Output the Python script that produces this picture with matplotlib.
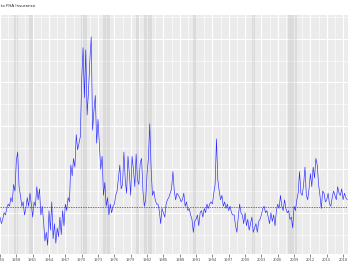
import numpy as np
import matplotlib
matplotlib.use('Agg')
import matplotlib.pyplot as plt

# quarterly values, 1955 Q1 .. 2018 Q4 (arbitrary units)
start_year = 1955.0
values = [
    -0.2, -0.5, -0.3, 0.0,   # 1955
    -0.1, 0.2, 0.4, 0.3,     # 1956
    0.7, 0.5, 1.3, 1.0,      # 1957
    2.4, 2.8, 1.2, 0.8,      # 1958
    0.3, 0.5, -0.1, 0.2,     # 1959
    0.7, 0.3, 0.9, 0.4,      # 1960
    -0.2, 0.5, 0.3, 1.2,     # 1961
    0.6, 1.1, -0.1, 0.3,     # 1962
    -0.4, -1.3, -0.9, -1.5,  # 1963
    0.1, -0.8, 0.5, -1.2,    # 1964
    -0.5, -1.4, -0.7, -1.1,  # 1965
    -0.2, -1.0, 0.1, -0.6,   # 1966
    0.4, 0.1, 0.7, 0.5,      # 1967
    2.2, 1.7, 2.5, 2.1,      # 1968
    3.6, 2.9, 3.2, 3.5,      # 1969
    6.1, 7.6, 5.3, 7.5,      # 1970
    4.5, 5.6, 7.0, 8.1,      # 1971
    3.8, 4.7, 5.4, 3.2,      # 1972
    4.3, 3.1, 2.0, 2.6,      # 1973
    0.8, 1.4, 0.3, 0.7,      # 1974
    -0.1, 0.4, 0.0, 0.3,     # 1975
    0.4, 0.8, 1.0, 1.6,      # 1976
    2.2, 1.1, 1.3, 2.8,      # 1977
    1.5, 0.9, 2.6, 1.8,      # 1978
    0.8, 2.6, 2.0, 1.2,      # 1979
    2.7, 1.5, 1.3, 2.3,      # 1980
    2.5, 1.0, 0.3, 0.6,      # 1981
    1.8, 2.5, 4.1, 2.0,      # 1982
    0.8, 1.0, 0.6, 0.4,      # 1983
    0.4, 0.1, -0.5, 0.2,     # 1984
    0.0, -0.2, 0.4, 0.6,     # 1985
    0.7, 0.9, 1.1, 1.9,      # 1986
    1.0, 0.6, 0.9, 0.8,      # 1987
    0.7, 0.5, 0.6, 0.9,      # 1988
    0.3, 0.5, 0.1, 0.2,      # 1989
    -0.1, -0.3, -0.9, -0.4,  # 1990
    -0.3, -0.1, -0.6, 0.0,   # 1991
    0.1, -0.2, 0.2, 0.0,     # 1992
    0.4, 0.2, 0.4, 0.5,      # 1993
    0.4, 0.9, 1.3, 3.4,      # 1994
    1.5, 1.0, 0.6, 0.8,      # 1995
    0.3, 0.5, 0.2, 0.4,      # 1996
    0.1, 0.3, 0.0, -0.1,     # 1997
    -0.1, -0.6, -0.9, -0.2,  # 1998
    0.4, 0.0, -0.1, -0.5,    # 1999
    0.0, -0.6, -0.3, -0.8,   # 2000
    -0.5, -0.2, -0.9, -0.7,  # 2001
    -0.5, -0.9, -0.4, -0.3,  # 2002
    -0.1, 0.2, 0.3, 0.0,     # 2003
    0.1, -0.2, -0.5, 0.0,    # 2004
    -0.4, -0.1, -0.6, 0.1,   # 2005
    0.4, 0.2, 0.8, 0.3,      # 2006
    0.1, 0.6, 0.2, 0.0,      # 2007
    0.1, -0.3, -0.2, -0.7,   # 2008
    0.3, 0.1, 0.6, 0.9,      # 2009
    1.9, 0.9, 0.8, 1.3,      # 2010
    2.1, 0.8, 0.6, 1.1,      # 2011
    1.8, 1.2, 2.1, 1.6,      # 2012
    2.5, 2.2, 1.3, 0.8,      # 2013
    0.2, 1.0, 0.9, 0.5,      # 2014
    0.6, 0.9, 0.4, 0.3,      # 2015
    0.7, 1.0, 0.8, 0.6,      # 2016
    1.2, 0.9, 0.8, 1.1,      # 2017
    0.6, 0.9, 0.7, 0.6,      # 2018
]
dates = start_year + 0.25 * np.arange(len(values))

mean_level = 0.26

recession_start = [1957.6, 1960.3, 1969.9, 1973.9, 1980.0, 1981.5, 1990.5, 2001.2, 2007.9]
recession_end = [1958.3, 1961.1, 1970.9, 1975.2, 1980.5, 1982.9, 1991.2, 2001.9, 2009.5]

tick_years = list(range(1955, 2019, 3))

title = 'Mortgage Spread Relative to FHA Insurance'

fig = plt.figure(figsize=(3.48, 2.68), dpi=100)
ax = fig.add_axes([0, 0.052, 1, 0.892])
ax.set_facecolor('#EBEBEB')

# grid like ggplot's theme_gray
for y in np.arange(-2, 10, 1):
    ax.axhline(y, color='white', lw=0.8 if y % 2 == 0 else 0.4, zorder=0)
for yr in tick_years:
    ax.axvline(yr, color='white', lw=0.8, zorder=0)
    ax.axvline(yr + 1.5, color='white', lw=0.4, zorder=0)

for s, e in zip(recession_start, recession_end):
    ax.axvspan(s, e, color='gray', alpha=0.15, lw=0, zorder=1)

ax.axhline(mean_level, color='#444444', lw=0.5, ls=(0, (2, 1.5)), zorder=2)
ax.plot(dates, values, color='#2a2aff', lw=0.45, zorder=3)

ax.set_xlim(1955.05, 2018.9)
ax.set_ylim(-1.9, 9.1)
ax.set_xticks(tick_years)
ax.set_xticklabels([str(y) for y in tick_years])
ax.tick_params(axis='x', labelsize=2.6, colors='#333333', length=2, width=0.4, pad=1,
               labelcolor='#4d4d4d')
ax.set_yticks([])
for sp in ax.spines.values():
    sp.set_visible(False)

fig.text(35 / 348, 1 - 5.5 / 268, title, ha='right', va='center', fontsize=2.9, color='#222222')

fig.savefig('out.png', dpi=100)
